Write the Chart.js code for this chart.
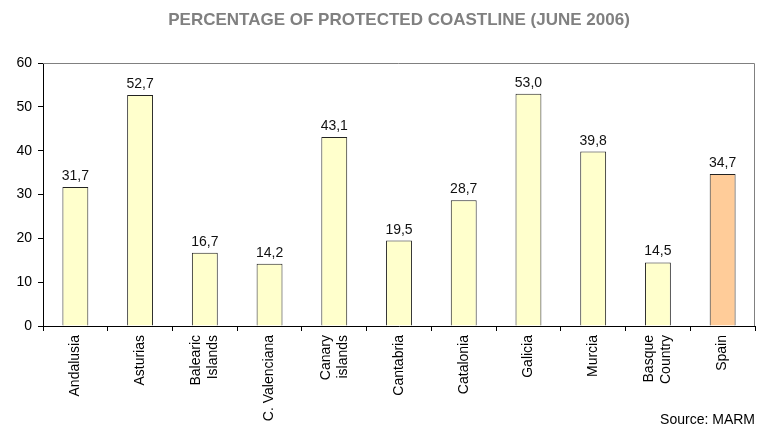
<!DOCTYPE html>
<html>
<head>
<meta charset="utf-8">
<script src="https://cdn.jsdelivr.net/npm/chart.js@4"></script>
<style>
    html, body { margin: 0; padding: 0; background: #fff; }
    #wrap { width: 768px; height: 436px; }
</style>
</head>
<body>
<div id="wrap"><canvas id="chart"></canvas></div>
<script>
var regions = [["Andalusia"], ["Asturias"], ["Balearic", "Islands"], ["C. Valenciana"], ["Canary", "islands"],
    ["Cantabria"], ["Catalonia"], ["Galicia"], ["Murcia"], ["Basque", "Country"], ["Spain"]];
var protectedPct = [31.7, 52.7, 16.7, 14.2, 43.1, 19.5, 28.7, 53.0, 39.8, 14.5, 34.7];
var barColors = ["#FFFFCC", "#FFFFCC", "#FFFFCC", "#FFFFCC", "#FFFFCC", "#FFFFCC",
    "#FFFFCC", "#FFFFCC", "#FFFFCC", "#FFFFCC", "#FFCC99"];
var yMin = 0, yMax = 60, yStep = 10;

var fontFamily = '"Liberation Sans", Arial, sans-serif';

// rotated category labels, multi-line ones centred on the tick
var xLabelPlugin = {
    id: 'xLabels',
    afterDraw: function (chart) {
        var ctx = chart.ctx;
        var xs = chart.scales.x;
        var lh = 17;
        ctx.save();
        ctx.font = '14px ' + fontFamily;
        ctx.fillStyle = '#000';
        ctx.textAlign = 'right';
        ctx.textBaseline = 'middle';
        regions.forEach(function (lines, i) {
            ctx.save();
            ctx.translate(xs.getPixelForValue(i), xs.top + 9);
            ctx.rotate(-Math.PI / 2);
            lines.forEach(function (line, j) {
                ctx.fillText(line, 0, (j - (lines.length - 1) / 2) * lh);
            });
            ctx.restore();
        });
        ctx.restore();
    }
};

// values above bars, with comma decimals
var valueLabelPlugin = {
    id: 'valueLabels',
    afterDatasetsDraw: function (chart) {
        var ctx = chart.ctx;
        var meta = chart.getDatasetMeta(0);
        ctx.save();
        ctx.font = '14px ' + fontFamily;
        ctx.fillStyle = '#111';
        ctx.textAlign = 'center';
        ctx.textBaseline = 'alphabetic';
        meta.data.forEach(function (bar, i) {
            ctx.fillText(protectedPct[i].toFixed(1).replace('.', ','), bar.x, bar.y - 7);
        });
        ctx.restore();
    }
};

// grey frame on top and right of the plot area
var framePlugin = {
    id: 'frame',
    beforeDatasetsDraw: function (chart) {
        var a = chart.chartArea;
        var ctx = chart.ctx;
        ctx.save();
        ctx.strokeStyle = '#808080';
        ctx.lineWidth = 1;
        ctx.beginPath();
        ctx.moveTo(a.left, a.top + 0.5);
        ctx.lineTo(a.right - 0.5, a.top + 0.5);
        ctx.lineTo(a.right - 0.5, a.bottom);
        ctx.stroke();
        ctx.restore();
    }
};

new Chart(document.getElementById('chart'), {
    type: 'bar',
    data: {
        labels: regions.map(function (r) { return r.join(' '); }),
        datasets: [{
            data: protectedPct,
            backgroundColor: barColors,
            borderColor: '#222',
            borderWidth: 1,
            barPercentage: 0.4,
            categoryPercentage: 1.0
        }]
    },
    options: {
        responsive: true,
        maintainAspectRatio: false,
        animation: false,
        devicePixelRatio: 1,
        layout: { padding: { left: 0, right: 13, top: 0, bottom: 0 } },
        plugins: {
            legend: { display: false },
            tooltip: { enabled: false },
            title: {
                display: true,
                text: 'PERCENTAGE OF PROTECTED COASTLINE (JUNE 2006)',
                color: '#808080',
                fullSize: false,
                font: { family: fontFamily, size: 17, weight: 'bold' },
                padding: { top: 10, bottom: 32.6 }
            },
            subtitle: {
                display: true,
                position: 'bottom',
                align: 'end',
                fullSize: false,
                text: 'Source: MARM',
                color: '#000',
                font: { family: fontFamily, size: 14 },
                padding: { top: 0, bottom: 7.6 }
            }
        },
        scales: {
            x: {
                ticks: { display: false },
                grid: { offset: true, drawOnChartArea: false, drawTicks: true, tickLength: 5, color: '#000' },
                border: { color: '#000' },
                afterFit: function (s) { s.height = 85.6; }
            },
            y: {
                min: yMin,
                max: yMax,
                ticks: {
                    stepSize: yStep,
                    padding: 6,
                    color: '#000',
                    font: { family: fontFamily, size: 14 }
                },
                grid: { drawOnChartArea: false, drawTicks: true, tickLength: 5, color: '#000' },
                border: { color: '#000' },
                afterFit: function (s) { s.width = 43; }
            }
        }
    },
    plugins: [framePlugin, valueLabelPlugin, xLabelPlugin]
});
</script>
</body>
</html>
